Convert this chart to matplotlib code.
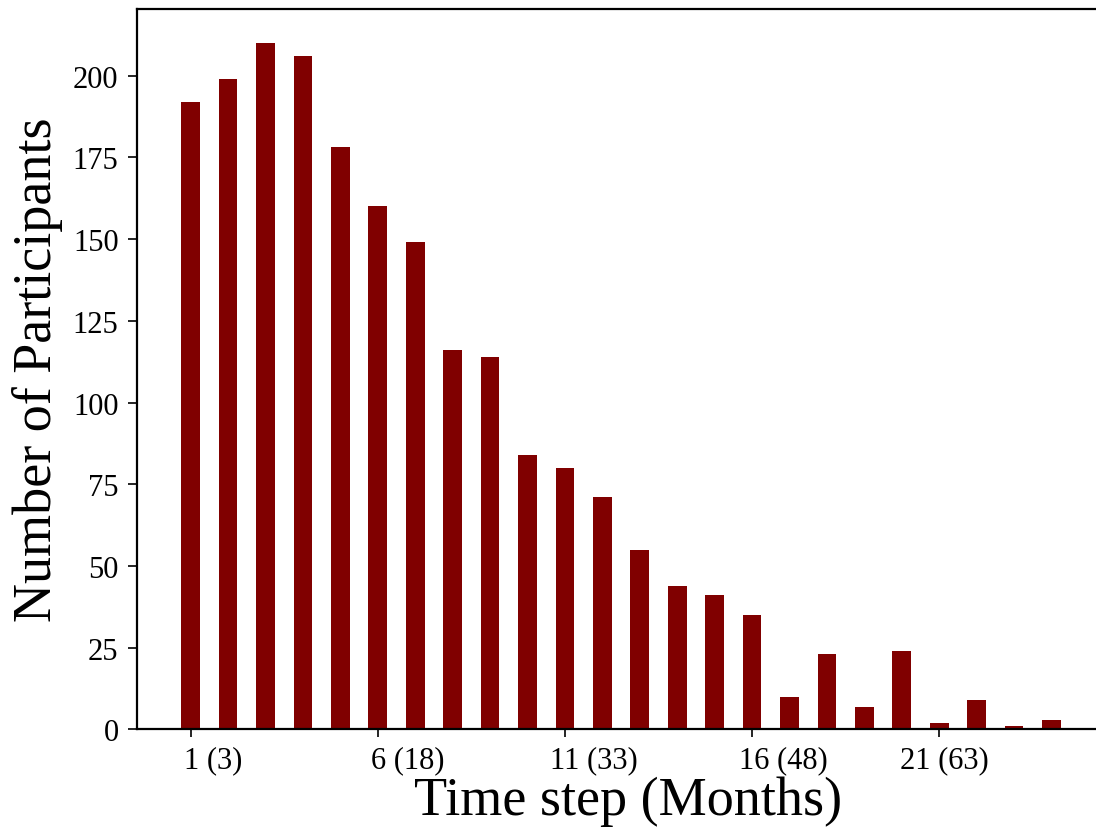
import matplotlib
matplotlib.use('Agg')
import matplotlib.pyplot as plt
import matplotlib.transforms as mtrans
import numpy as np

# participants per time step (1 step = 3 months)
steps = np.arange(1, 25)
participants = [192, 199, 210, 206, 178, 160, 149, 116, 114, 84, 80, 71,
                55, 44, 41, 35, 10, 23, 7, 24, 2, 9, 1, 3]
tick_steps = [1, 6, 11, 16, 21]
tick_labels = ['1 (3)', '6 (18)', '11 (33)', '16 (48)', '21 (63)']

plt.rcParams['font.family'] = ['Liberation Serif', 'DejaVu Serif']

fig = plt.figure(figsize=(10.96, 8.28), dpi=100)
ax = fig.add_axes([0.1253, 0.1178, 0.8827, 0.8707])
ax.bar(steps, participants, width=0.5, color='#800000')

ax.set_xticks(tick_steps)
ax.set_xticklabels(tick_labels, fontsize=22)
ax.set_yticks([0, 25, 50, 75, 100, 125, 150, 175, 200])
ax.tick_params(axis='y', labelsize=22, length=6.5, width=1.2, pad=7)
ax.tick_params(axis='x', length=6, width=1.2, pad=5)
# label placement in the original is slightly shifted right of the ticks
shifts = [23, 30, 29, 31, 5]
for lab, dx in zip(ax.get_xticklabels(), shifts):
    lab.set_transform(lab.get_transform() + mtrans.ScaledTranslation(dx / 100, 0, fig.dpi_scale_trans))

for s in ax.spines.values():
    s.set_linewidth(1.6)

xl = ax.set_xlabel('Time step (Months)', fontsize=39, labelpad=1)
xl.set_x(0.507)
ax.set_ylabel('Number of Participants', fontsize=39, labelpad=7)

plt.savefig('out.png', dpi=100)
